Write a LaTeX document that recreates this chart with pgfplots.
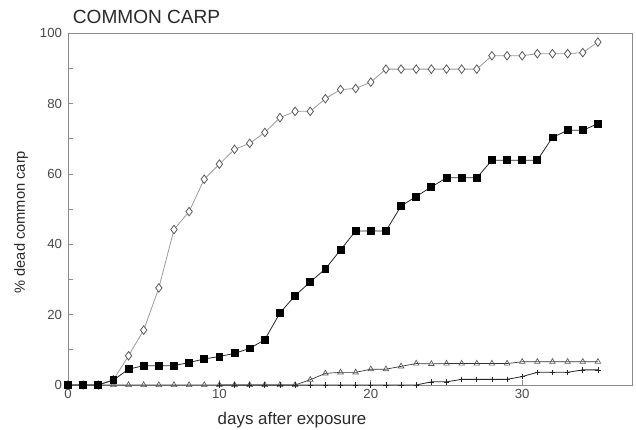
\documentclass[border=0pt]{standalone}
\usepackage{fontspec}
\setmainfont{Liberation Sans}
\usepackage{pgfplots}
\pgfplotsset{compat=1.18}
\usepackage{pgfplotstable}

\definecolor{axgray}{HTML}{8A8A8A}
\definecolor{txt}{HTML}{2A2A2A}
\definecolor{lgray}{HTML}{9A9A9A}

\pgfplotstableread{
d y
0 0
1 0
2 0
3 1.5
4 8.3
5 15.6
6 27.6
7 44.2
8 49.3
9 58.5
10 62.8
11 67.0
12 68.7
13 71.8
14 76.0
15 77.8
16 77.8
17 81.4
18 84.0
19 84.3
20 86.1
21 89.8
22 89.8
23 89.8
24 89.8
25 89.8
26 89.8
27 89.8
28 93.6
29 93.6
30 93.6
31 94.2
32 94.2
33 94.2
34 94.5
35 97.5
}\diamonds

\pgfplotstableread{
d y
0 0
1 0
2 0
3 1.4
4 4.5
5 5.5
6 5.5
7 5.5
8 6.4
9 7.4
10 8.1
11 9.0
12 10.4
13 12.9
14 20.5
15 25.4
16 29.3
17 33.0
18 38.4
19 43.8
20 43.8
21 43.8
22 50.9
23 53.6
24 56.3
25 58.9
26 58.9
27 58.9
28 63.9
29 63.9
30 63.9
31 63.9
32 70.4
33 72.4
34 72.4
35 74.3
}\squares

\pgfplotstableread{
d y
0 0
1 0
2 0
3 0
4 0
5 0
6 0
7 0
8 0
9 0
10 0
11 0
12 0
13 0
14 0
15 0
16 1.5
17 3.3
18 3.6
19 3.6
20 4.5
21 4.5
22 5.3
23 6.1
24 6.0
25 6.1
26 6.1
27 6.1
28 6.1
29 6.1
30 6.6
31 6.6
32 6.6
33 6.6
34 6.6
35 6.6
}\triangles

\pgfplotstableread{
d y
10 0
11 0
12 0
13 0
14 0
15 0
16 0
17 0
18 0
19 0
20 0
21 0
22 0
23 0
24 0.9
25 0.9
26 1.6
27 1.6
28 1.6
29 1.6
30 2.4
31 3.6
32 3.6
33 3.6
34 4.3
35 4.3
}\pluses

\begin{document}
\begin{tikzpicture}[x=1pt,y=1pt]
\path[use as bounding box] (-51,-33) rectangle (426,288.75);
\begin{axis}[
  at={(0,0)}, anchor=south west,
  x=11.355pt, y=2.638pt,
  xmin=0, xmax=37.3, ymin=0, ymax=100,
  axis line style={axgray, line width=0.6pt},
  xtick={0,10,20,30},
  ytick={0,20,40,60,80,100},
  minor ytick={10,30,50,70,90},
  xtick pos=left, ytick pos=left,
  tick align=inside,
  major tick length=3.75pt, minor tick length=3.75pt,
  tick style={axgray, line width=0.5pt},
  ticklabel style={font=\fontsize{9.9}{11}\selectfont, text=txt!85},
  yticklabel style={xshift=-1pt},
  /pgf/number format/assume math mode=true,
  clip=false,
]
\addplot[color=lgray, line width=0.6pt, mark=diamond*, mark size=3.2pt,
  mark options={fill=white, draw=black!65, line width=0.6pt}] table[x=d,y=y] {\diamonds};
\addplot[color=black!80, line width=0.5pt, mark=triangle, mark size=2.4pt,
  mark options={draw=black!65, line width=0.5pt}] table[x=d,y=y] {\triangles};
\addplot[color=black!85, line width=0.6pt, mark=+, mark size=2pt,
  mark options={line width=0.5pt}] table[x=d,y=y] {\pluses};
\addplot[color=black!85, line width=0.6pt, mark=square*, mark size=2.6pt,
  mark options={fill=black, draw=black}] table[x=d,y=y] {\squares};

\node[anchor=base, font=\fontsize{12.7}{14}\selectfont, text=txt, yshift=-29.25pt]
  at (axis cs:14.8,0) {days after exposure};
\end{axis}
\node[rotate=90, anchor=center, font=\fontsize{11}{13}\selectfont, text=txt]
  at (-35.25,122.1) {\% dead common carp};
\node[anchor=base west, font=\fontsize{14.3}{16}\selectfont, text=txt, inner sep=0pt]
  at (3.5,271.3) {COMMON CARP};
\end{tikzpicture}
\end{document}
